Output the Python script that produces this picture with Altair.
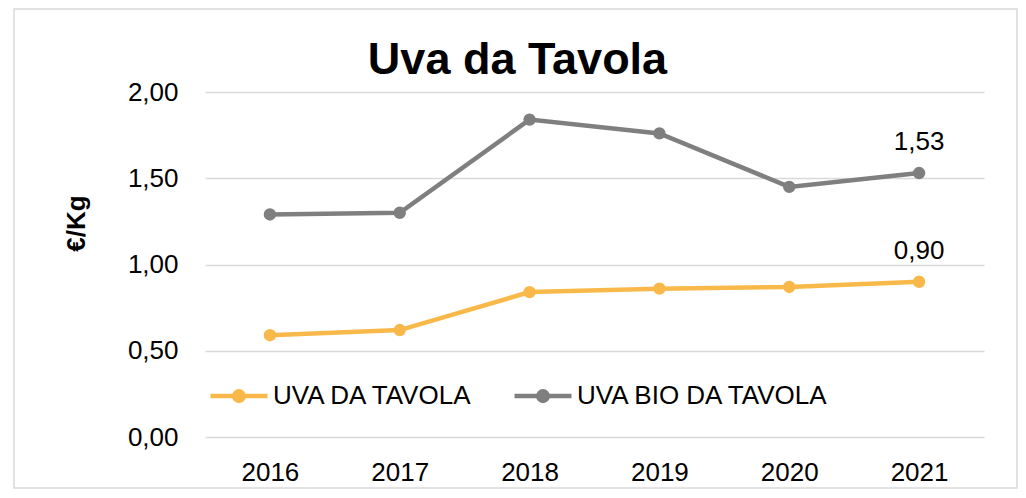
import altair as alt
import pandas as pd

years = ["2016", "2017", "2018", "2019", "2020", "2021"]
uva = [0.59, 0.62, 0.84, 0.86, 0.87, 0.90]
uva_bio = [1.29, 1.30, 1.84, 1.76, 1.45, 1.53]
series_names = ["UVA DA TAVOLA", "UVA BIO DA TAVOLA"]
colors = ["#F9B94A", "#7F7F7F"]
y_ticks = [0, 0.5, 1.0, 1.5, 2.0]

rows = []
for name, vals in zip(series_names, [uva, uva_bio]):
    for yr, v in zip(years, vals):
        rows.append({"anno": yr, "valore": v, "serie": name})
df = pd.DataFrame(rows)

FONT = "Liberation Sans"
TXT = "#000000"

legend_path = (
    "M-1,0H1"
    "M-0.167,0A0.167,0.167,0,1,0,0.167,0A0.167,0.167,0,1,0,-0.167,0"
    "M-0.088,0A0.088,0.088,0,1,0,0.088,0A0.088,0.088,0,1,0,-0.088,0"
)

x_enc = alt.X(
    "anno:O",
    scale=alt.Scale(type="point", padding=0.5),
    axis=alt.Axis(
        title=None, labelAngle=0, labelFontSize=26, labelFont=FONT, labelColor=TXT,
        labelPadding=22, domain=False, ticks=False, grid=False,
    ),
)
y_enc = alt.Y(
    "valore:Q",
    scale=alt.Scale(domain=[0, 2]),
    axis=alt.Axis(
        values=y_ticks,
        labelExpr="replace(format(datum.value, '.2f'), '.', ',')",
        labelFontSize=26, labelFont=FONT, labelColor=TXT, labelPadding=27,
        domain=False, ticks=False, grid=True, gridColor="#D9D9D9", gridWidth=1.5,
        title="€/Kg", titleFont=FONT, titleFontSize=26, titleFontWeight="bold",
        titleColor=TXT, titleAngle=270, titleX=-121, titleY=131,
        titleAlign="center", titleBaseline="alphabetic",
    ),
)
color_enc = alt.Color(
    "serie:N",
    scale=alt.Scale(domain=series_names, range=colors),
    legend=alt.Legend(
        title=None, orient="none", legendX=3, legendY=273, direction="horizontal",
        labelFont=FONT, labelFontSize=26, labelColor=TXT, labelOffset=3,
        labelLimit=0, columnPadding=31, symbolType=legend_path, symbolSize=3249,
        symbolStrokeWidth=4.5, symbolOpacity=1,
    ),
)

base = alt.Chart(df)

lines = base.mark_line(strokeWidth=4.5).encode(x=x_enc, y=y_enc, color=color_enc)
points = base.mark_circle(size=154, opacity=1).encode(x=x_enc, y=y_enc, color=color_enc)
labels = (
    base.transform_filter(alt.datum.anno == years[-1])
    .transform_calculate(lab="replace(format(datum.valore, '.2f'), '.', ',')")
    .mark_text(dy=-23, baseline="alphabetic", fontSize=26, font=FONT, color=TXT)
    .encode(x=x_enc, y=y_enc, text="lab:N")
)
border = (
    alt.Chart(pd.DataFrame({"k": [0]}))
    .mark_rect(fill=None, stroke="#D9D9D9", strokeWidth=1.5)
    .encode(x=alt.value(-191), x2=alt.value(812), y=alt.value(-83), y2=alt.value(396))
)

chart = (
    alt.layer(border, lines, points, labels)
    .properties(
        width=779,
        height=345,
        title=alt.Title(
            "Uva da Tavola", font=FONT, fontSize=45, fontWeight="bold", color=TXT,
            anchor="middle", frame="group", dx=-77, dy=111, offset=0,
            baseline="alphabetic",
        ),
        autosize=alt.AutoSizeParams(type="none"),
        padding={"left": 197, "top": 84, "right": 34, "bottom": 52},
    )
    .configure_view(stroke=None)
)

chart.save("out.html", embed_options={"renderer": "svg", "actions": False})
